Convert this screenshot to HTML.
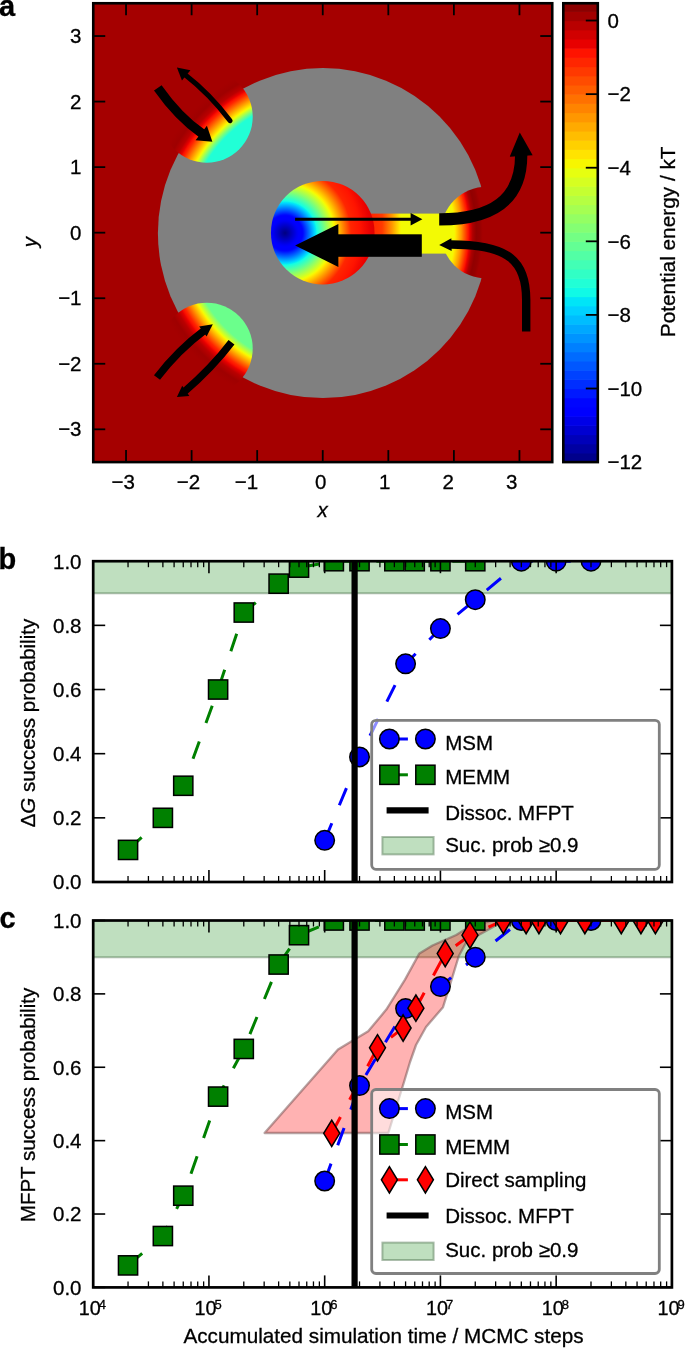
<!DOCTYPE html>
<html><head><meta charset="utf-8"><style>
html,body{margin:0;padding:0;background:#fff;}
svg{display:block;will-change:transform;}
text{font-family:"Liberation Sans", sans-serif;fill:#000;stroke:#000;stroke-width:0.3px;}
</style></head><body>
<svg width="685" height="1348" viewBox="0 0 685 1348">
<defs>
<clipPath id="clipA"><rect x="93.25" y="3.25" width="459.00" height="458.85"/></clipPath>
<radialGradient id="gUL" gradientUnits="userSpaceOnUse" cx="322.75" cy="232.68" r="220.00"><stop offset="0.0000" stop-color="#21ffd6"/><stop offset="0.0758" stop-color="#21ffd6"/><stop offset="0.1515" stop-color="#21ffd6"/><stop offset="0.2273" stop-color="#21ffd6"/><stop offset="0.3030" stop-color="#21ffd6"/><stop offset="0.3788" stop-color="#21ffd6"/><stop offset="0.4545" stop-color="#21ffd6"/><stop offset="0.4818" stop-color="#21ffd6"/><stop offset="0.5091" stop-color="#21ffd6"/><stop offset="0.5364" stop-color="#21ffd6"/><stop offset="0.5636" stop-color="#21ffd6"/><stop offset="0.5909" stop-color="#21ffd6"/><stop offset="0.6182" stop-color="#21ffd6"/><stop offset="0.6212" stop-color="#30ffc7"/><stop offset="0.6242" stop-color="#3fffb8"/><stop offset="0.6273" stop-color="#4effa9"/><stop offset="0.6303" stop-color="#5dff9a"/><stop offset="0.6333" stop-color="#6cff8a"/><stop offset="0.6364" stop-color="#7bff7b"/><stop offset="0.6398" stop-color="#8fff68"/><stop offset="0.6433" stop-color="#a2ff55"/><stop offset="0.6468" stop-color="#b5ff42"/><stop offset="0.6503" stop-color="#c8ff2f"/><stop offset="0.6538" stop-color="#dbff1b"/><stop offset="0.6573" stop-color="#efff08"/><stop offset="0.6621" stop-color="#feee00"/><stop offset="0.6670" stop-color="#ffdc00"/><stop offset="0.6718" stop-color="#ffcb00"/><stop offset="0.6767" stop-color="#ffba00"/><stop offset="0.6815" stop-color="#ffa800"/><stop offset="0.6864" stop-color="#ff9700"/><stop offset="0.6917" stop-color="#ff8400"/><stop offset="0.6970" stop-color="#ff7100"/><stop offset="0.7023" stop-color="#ff5e00"/><stop offset="0.7076" stop-color="#ff4c00"/><stop offset="0.7129" stop-color="#ff3900"/><stop offset="0.7182" stop-color="#ff2600"/><stop offset="0.7235" stop-color="#ff1900"/><stop offset="0.7288" stop-color="#f70d00"/><stop offset="0.7341" stop-color="#e80000"/><stop offset="0.7394" stop-color="#d80000"/><stop offset="0.7447" stop-color="#c90000"/><stop offset="0.7500" stop-color="#b90000"/><stop offset="0.7545" stop-color="#b50000"/><stop offset="0.7591" stop-color="#b10000"/><stop offset="0.7636" stop-color="#ac0000"/><stop offset="0.7682" stop-color="#a80000"/><stop offset="0.7727" stop-color="#a30000"/><stop offset="0.7773" stop-color="#9f0000"/><stop offset="0.7826" stop-color="#a00000"/><stop offset="0.7879" stop-color="#a10000"/><stop offset="0.7932" stop-color="#a20000"/><stop offset="0.7985" stop-color="#a30000"/><stop offset="0.8038" stop-color="#a40000"/><stop offset="0.8091" stop-color="#a50000"/><stop offset="0.8409" stop-color="#a50000"/><stop offset="0.8727" stop-color="#a50000"/><stop offset="0.9045" stop-color="#a50000"/><stop offset="0.9364" stop-color="#a50000"/><stop offset="0.9682" stop-color="#a50000"/><stop offset="1.0000" stop-color="#a50000"/></radialGradient>
<radialGradient id="gLL" gradientUnits="userSpaceOnUse" cx="322.75" cy="232.68" r="220.00"><stop offset="0.0000" stop-color="#6bff8c"/><stop offset="0.0758" stop-color="#6bff8c"/><stop offset="0.1515" stop-color="#6bff8c"/><stop offset="0.2273" stop-color="#6bff8c"/><stop offset="0.3030" stop-color="#6bff8c"/><stop offset="0.3788" stop-color="#6bff8c"/><stop offset="0.4545" stop-color="#6bff8c"/><stop offset="0.4818" stop-color="#6bff8c"/><stop offset="0.5091" stop-color="#6bff8c"/><stop offset="0.5364" stop-color="#6bff8c"/><stop offset="0.5636" stop-color="#6bff8c"/><stop offset="0.5909" stop-color="#6bff8c"/><stop offset="0.6182" stop-color="#6bff8c"/><stop offset="0.6239" stop-color="#81ff76"/><stop offset="0.6295" stop-color="#97ff60"/><stop offset="0.6352" stop-color="#adff4a"/><stop offset="0.6409" stop-color="#c3ff34"/><stop offset="0.6466" stop-color="#d9ff1e"/><stop offset="0.6523" stop-color="#efff08"/><stop offset="0.6572" stop-color="#feee00"/><stop offset="0.6621" stop-color="#ffdc00"/><stop offset="0.6670" stop-color="#ffcb00"/><stop offset="0.6720" stop-color="#ffba00"/><stop offset="0.6769" stop-color="#ffa800"/><stop offset="0.6818" stop-color="#ff9700"/><stop offset="0.6871" stop-color="#ff8400"/><stop offset="0.6924" stop-color="#ff7100"/><stop offset="0.6977" stop-color="#ff5e00"/><stop offset="0.7030" stop-color="#ff4c00"/><stop offset="0.7083" stop-color="#ff3900"/><stop offset="0.7136" stop-color="#ff2600"/><stop offset="0.7197" stop-color="#ff1900"/><stop offset="0.7258" stop-color="#f70d00"/><stop offset="0.7318" stop-color="#e80000"/><stop offset="0.7379" stop-color="#d80000"/><stop offset="0.7439" stop-color="#c90000"/><stop offset="0.7500" stop-color="#b90000"/><stop offset="0.7545" stop-color="#b50000"/><stop offset="0.7591" stop-color="#b10000"/><stop offset="0.7636" stop-color="#ac0000"/><stop offset="0.7682" stop-color="#a80000"/><stop offset="0.7727" stop-color="#a30000"/><stop offset="0.7773" stop-color="#9f0000"/><stop offset="0.7826" stop-color="#a00000"/><stop offset="0.7879" stop-color="#a10000"/><stop offset="0.7932" stop-color="#a20000"/><stop offset="0.7985" stop-color="#a30000"/><stop offset="0.8038" stop-color="#a40000"/><stop offset="0.8091" stop-color="#a50000"/><stop offset="0.8409" stop-color="#a50000"/><stop offset="0.8727" stop-color="#a50000"/><stop offset="0.9045" stop-color="#a50000"/><stop offset="0.9364" stop-color="#a50000"/><stop offset="0.9682" stop-color="#a50000"/><stop offset="1.0000" stop-color="#a50000"/></radialGradient>
<radialGradient id="gR" gradientUnits="userSpaceOnUse" cx="322.75" cy="232.68" r="220.00"><stop offset="0.0000" stop-color="#f3fa04"/><stop offset="0.0758" stop-color="#f3fa04"/><stop offset="0.1515" stop-color="#f3fa04"/><stop offset="0.2273" stop-color="#f3fa04"/><stop offset="0.3030" stop-color="#f3fa04"/><stop offset="0.3788" stop-color="#f3fa04"/><stop offset="0.4545" stop-color="#f3fa04"/><stop offset="0.4784" stop-color="#f3fa04"/><stop offset="0.5023" stop-color="#f3fa04"/><stop offset="0.5261" stop-color="#f3fa04"/><stop offset="0.5500" stop-color="#f3fa04"/><stop offset="0.5739" stop-color="#f3fa04"/><stop offset="0.5977" stop-color="#f3fa04"/><stop offset="0.6030" stop-color="#ffea00"/><stop offset="0.6083" stop-color="#ffd900"/><stop offset="0.6136" stop-color="#ffc900"/><stop offset="0.6189" stop-color="#ffb800"/><stop offset="0.6242" stop-color="#ffa800"/><stop offset="0.6295" stop-color="#ff9700"/><stop offset="0.6341" stop-color="#ff8400"/><stop offset="0.6386" stop-color="#ff7100"/><stop offset="0.6432" stop-color="#ff5e00"/><stop offset="0.6477" stop-color="#ff4c00"/><stop offset="0.6523" stop-color="#ff3900"/><stop offset="0.6568" stop-color="#ff2600"/><stop offset="0.6610" stop-color="#ff1800"/><stop offset="0.6652" stop-color="#f30900"/><stop offset="0.6693" stop-color="#e20000"/><stop offset="0.6735" stop-color="#d10000"/><stop offset="0.6777" stop-color="#bf0000"/><stop offset="0.6818" stop-color="#ae0000"/><stop offset="0.6845" stop-color="#a90000"/><stop offset="0.6871" stop-color="#a40000"/><stop offset="0.6898" stop-color="#9f0000"/><stop offset="0.6924" stop-color="#9b0000"/><stop offset="0.6951" stop-color="#960000"/><stop offset="0.6977" stop-color="#910000"/><stop offset="0.7004" stop-color="#920000"/><stop offset="0.7030" stop-color="#930000"/><stop offset="0.7057" stop-color="#940000"/><stop offset="0.7083" stop-color="#950000"/><stop offset="0.7110" stop-color="#960000"/><stop offset="0.7136" stop-color="#970000"/><stop offset="0.7159" stop-color="#990000"/><stop offset="0.7182" stop-color="#9b0000"/><stop offset="0.7205" stop-color="#9e0000"/><stop offset="0.7227" stop-color="#a00000"/><stop offset="0.7250" stop-color="#a20000"/><stop offset="0.7273" stop-color="#a50000"/><stop offset="0.7727" stop-color="#a50000"/><stop offset="0.8182" stop-color="#a50000"/><stop offset="0.8636" stop-color="#a50000"/><stop offset="0.9091" stop-color="#a50000"/><stop offset="0.9545" stop-color="#a50000"/><stop offset="1.0000" stop-color="#a50000"/></radialGradient>
<linearGradient id="gCh" gradientUnits="userSpaceOnUse" x1="366" y1="0" x2="405" y2="0"><stop offset="0.0000" stop-color="#ff1c00"/><stop offset="0.0684" stop-color="#ff2100"/><stop offset="0.1368" stop-color="#ff2600"/><stop offset="0.2051" stop-color="#ff2b00"/><stop offset="0.2735" stop-color="#ff2f00"/><stop offset="0.3419" stop-color="#ff3400"/><stop offset="0.4103" stop-color="#ff3900"/><stop offset="0.4530" stop-color="#ff4800"/><stop offset="0.4957" stop-color="#ff5800"/><stop offset="0.5385" stop-color="#ff6800"/><stop offset="0.5812" stop-color="#ff7800"/><stop offset="0.6239" stop-color="#ff8700"/><stop offset="0.6667" stop-color="#ff9700"/><stop offset="0.7051" stop-color="#ffa800"/><stop offset="0.7436" stop-color="#ffb800"/><stop offset="0.7821" stop-color="#ffc900"/><stop offset="0.8205" stop-color="#ffd900"/><stop offset="0.8590" stop-color="#ffea00"/><stop offset="0.8974" stop-color="#f3fa04"/><stop offset="0.9145" stop-color="#f3fa04"/><stop offset="0.9316" stop-color="#f3fa04"/><stop offset="0.9487" stop-color="#f3fa04"/><stop offset="0.9658" stop-color="#f3fa04"/><stop offset="0.9829" stop-color="#f3fa04"/><stop offset="1.0000" stop-color="#f3fa04"/></linearGradient>
<radialGradient id="gC" gradientUnits="userSpaceOnUse" cx="285.0" cy="233.0" r="90"><stop offset="0.0000" stop-color="#000080"/><stop offset="0.0111" stop-color="#000089"/><stop offset="0.0222" stop-color="#000093"/><stop offset="0.0333" stop-color="#00009c"/><stop offset="0.0444" stop-color="#0000a6"/><stop offset="0.0556" stop-color="#0000b0"/><stop offset="0.0667" stop-color="#0000b9"/><stop offset="0.0778" stop-color="#0000c3"/><stop offset="0.0889" stop-color="#0000cd"/><stop offset="0.1000" stop-color="#0000d6"/><stop offset="0.1111" stop-color="#0000e0"/><stop offset="0.1222" stop-color="#0000ea"/><stop offset="0.1333" stop-color="#0000f3"/><stop offset="0.1444" stop-color="#0000f9"/><stop offset="0.1556" stop-color="#0000ff"/><stop offset="0.1667" stop-color="#0000ff"/><stop offset="0.1778" stop-color="#0000ff"/><stop offset="0.1889" stop-color="#0000ff"/><stop offset="0.2000" stop-color="#0005ff"/><stop offset="0.2130" stop-color="#0019ff"/><stop offset="0.2259" stop-color="#002eff"/><stop offset="0.2389" stop-color="#0042ff"/><stop offset="0.2519" stop-color="#0057ff"/><stop offset="0.2648" stop-color="#006bff"/><stop offset="0.2778" stop-color="#0080ff"/><stop offset="0.2907" stop-color="#0095ff"/><stop offset="0.3037" stop-color="#00aaff"/><stop offset="0.3167" stop-color="#00bfff"/><stop offset="0.3296" stop-color="#00d4ff"/><stop offset="0.3426" stop-color="#03eaf3"/><stop offset="0.3556" stop-color="#15ffe2"/><stop offset="0.3704" stop-color="#26ffd1"/><stop offset="0.3852" stop-color="#37ffc0"/><stop offset="0.4000" stop-color="#48ffaf"/><stop offset="0.4148" stop-color="#59ff9e"/><stop offset="0.4296" stop-color="#6aff8d"/><stop offset="0.4444" stop-color="#7bff7b"/><stop offset="0.4611" stop-color="#8fff68"/><stop offset="0.4778" stop-color="#a2ff55"/><stop offset="0.4944" stop-color="#b5ff42"/><stop offset="0.5111" stop-color="#c8ff2f"/><stop offset="0.5278" stop-color="#dbff1b"/><stop offset="0.5444" stop-color="#efff08"/><stop offset="0.5593" stop-color="#feee00"/><stop offset="0.5741" stop-color="#ffdc00"/><stop offset="0.5889" stop-color="#ffcb00"/><stop offset="0.6037" stop-color="#ffba00"/><stop offset="0.6185" stop-color="#ffa800"/><stop offset="0.6333" stop-color="#ff9700"/><stop offset="0.6500" stop-color="#ff8400"/><stop offset="0.6667" stop-color="#ff7100"/><stop offset="0.6833" stop-color="#ff5e00"/><stop offset="0.7000" stop-color="#ff4c00"/><stop offset="0.7167" stop-color="#ff3900"/><stop offset="0.7333" stop-color="#ff2600"/><stop offset="0.7593" stop-color="#ff2100"/><stop offset="0.7852" stop-color="#ff1c00"/><stop offset="0.8111" stop-color="#ff1800"/><stop offset="0.8370" stop-color="#ff1300"/><stop offset="0.8630" stop-color="#f90e00"/><stop offset="0.8889" stop-color="#f30900"/><stop offset="0.9074" stop-color="#f00600"/><stop offset="0.9259" stop-color="#ec0300"/><stop offset="0.9444" stop-color="#e80000"/><stop offset="0.9630" stop-color="#e40000"/><stop offset="0.9815" stop-color="#e00000"/><stop offset="1.0000" stop-color="#dc0000"/></radialGradient>
</defs>
<rect x="0" y="0" width="685" height="1348" fill="#ffffff"/>
<g clip-path="url(#clipA)">
<rect x="93.25" y="3.25" width="459.00" height="458.85" fill="#a50000"/>
<circle cx="322.90" cy="233.12" r="165.00" fill="#808080"/>
<circle cx="206.83" cy="116.76" r="45.90" fill="url(#gUL)"/>
<circle cx="206.83" cy="348.59" r="45.90" fill="url(#gLL)"/>
<circle cx="486.68" cy="232.68" r="45.90" fill="url(#gR)"/>
<rect x="350" y="213.6" width="100" height="40" fill="url(#gCh)"/>
<circle cx="322.75" cy="232.68" r="51.8" fill="url(#gC)"/>
<path d="M157.8 87.8 Q 178.3 117.0 202.5 133.9" stroke="#000" stroke-width="9.3" fill="none"/>
<polygon points="212.40,141.70 195.49,140.17 206.91,125.63" fill="#000"/>
<path d="M230.1 120.7 Q 210 94 184.5 74.2" stroke="#000" stroke-width="5" fill="none" stroke-linecap="round"/>
<polygon points="176.90,67.60 190.44,70.34 181.96,80.46" fill="#000"/>
<path d="M157.0 377.5 Q 178 350 204.9 330.0" stroke="#000" stroke-width="7.6" fill="none" stroke-linejoin="round"/>
<polygon points="212.80,324.20 206.61,336.53 199.19,326.47" fill="#000"/>
<path d="M231.5 342.3 Q 212 368 183.75 392.3" stroke="#000" stroke-width="7.4" fill="none"/>
<polygon points="176.90,397.10 182.23,385.77 189.37,396.03" fill="#000"/>
<line x1="295.1" y1="219.3" x2="411" y2="219.3" stroke="#000" stroke-width="3"/>
<polygon points="422.40,219.30 410.60,225.55 410.60,213.05" fill="#000"/>
<rect x="337" y="234.3" width="84.8" height="22.5" fill="#000"/>
<polygon points="295.10,245.50 338.40,224.00 338.40,267.00" fill="#000"/>
<path d="M439.2 219.4 C 492 219.4, 521.2 200, 521.2 155" stroke="#000" stroke-width="12.3" fill="none"/>
<polygon points="519.80,132.60 532.68,155.31 509.72,156.69" fill="#000"/>
<path d="M526.2 331.6 L 526.2 300 C 526.2 262, 510 244.5, 451 244.5" stroke="#000" stroke-width="8.4" fill="none"/>
<polygon points="439.20,245.00 451.34,238.30 451.66,251.10" fill="#000"/>
</g>
<g stroke="#000" stroke-width="1.80"><line x1="126.04" y1="3.25" x2="126.04" y2="15.25"/><line x1="126.04" y1="462.10" x2="126.04" y2="450.10"/><line x1="191.61" y1="3.25" x2="191.61" y2="15.25"/><line x1="191.61" y1="462.10" x2="191.61" y2="450.10"/><line x1="257.18" y1="3.25" x2="257.18" y2="15.25"/><line x1="257.18" y1="462.10" x2="257.18" y2="450.10"/><line x1="322.75" y1="3.25" x2="322.75" y2="15.25"/><line x1="322.75" y1="462.10" x2="322.75" y2="450.10"/><line x1="388.32" y1="3.25" x2="388.32" y2="15.25"/><line x1="388.32" y1="462.10" x2="388.32" y2="450.10"/><line x1="453.89" y1="3.25" x2="453.89" y2="15.25"/><line x1="453.89" y1="462.10" x2="453.89" y2="450.10"/><line x1="519.46" y1="3.25" x2="519.46" y2="15.25"/><line x1="519.46" y1="462.10" x2="519.46" y2="450.10"/></g>
<g stroke="#000" stroke-width="1.80"><line x1="93.25" y1="429.32" x2="105.25" y2="429.32"/><line x1="552.25" y1="429.32" x2="540.25" y2="429.32"/><line x1="93.25" y1="363.77" x2="105.25" y2="363.77"/><line x1="552.25" y1="363.77" x2="540.25" y2="363.77"/><line x1="93.25" y1="298.23" x2="105.25" y2="298.23"/><line x1="552.25" y1="298.23" x2="540.25" y2="298.23"/><line x1="93.25" y1="232.68" x2="105.25" y2="232.68"/><line x1="552.25" y1="232.68" x2="540.25" y2="232.68"/><line x1="93.25" y1="167.12" x2="105.25" y2="167.12"/><line x1="552.25" y1="167.12" x2="540.25" y2="167.12"/><line x1="93.25" y1="101.58" x2="105.25" y2="101.58"/><line x1="552.25" y1="101.58" x2="540.25" y2="101.58"/><line x1="93.25" y1="36.03" x2="105.25" y2="36.03"/><line x1="552.25" y1="36.03" x2="540.25" y2="36.03"/></g>
<rect x="93.25" y="3.25" width="459.00" height="458.85" fill="none" stroke="#000" stroke-width="2.6"/>
<text x="123.20" y="489.20" text-anchor="middle" font-size="20.50" >−3</text>
<text x="81.50" y="436.32" text-anchor="end" font-size="20.50" >−3</text>
<text x="188.40" y="489.20" text-anchor="middle" font-size="20.50" >−2</text>
<text x="81.50" y="370.77" text-anchor="end" font-size="20.50" >−2</text>
<text x="246.50" y="489.20" text-anchor="middle" font-size="20.50" >−1</text>
<text x="81.50" y="305.23" text-anchor="end" font-size="20.50" >−1</text>
<text x="320.80" y="489.20" text-anchor="middle" font-size="20.50" >0</text>
<text x="81.50" y="239.68" text-anchor="end" font-size="20.50" >0</text>
<text x="384.60" y="489.20" text-anchor="middle" font-size="20.50" >1</text>
<text x="81.50" y="174.12" text-anchor="end" font-size="20.50" >1</text>
<text x="448.10" y="489.20" text-anchor="middle" font-size="20.50" >2</text>
<text x="81.50" y="108.58" text-anchor="end" font-size="20.50" >2</text>
<text x="511.70" y="489.20" text-anchor="middle" font-size="20.50" >3</text>
<text x="81.50" y="43.03" text-anchor="end" font-size="20.50" >3</text>
<text x="322.50" y="517.00" text-anchor="middle" font-size="20.50" font-style="italic">x</text>
<text x="0" y="0" transform="translate(36.9 242.0) rotate(-90)" text-anchor="middle" font-size="20.50" font-style="italic">y</text>
<rect x="563.30" y="452.90" width="34.50" height="9.80" fill="#00008b"/>
<rect x="563.30" y="443.70" width="34.50" height="9.80" fill="#0000a2"/>
<rect x="563.30" y="434.50" width="34.50" height="9.80" fill="#0000b9"/>
<rect x="563.30" y="425.30" width="34.50" height="9.80" fill="#0000d1"/>
<rect x="563.30" y="416.10" width="34.50" height="9.80" fill="#0000e8"/>
<rect x="563.30" y="406.91" width="34.50" height="9.80" fill="#0000ff"/>
<rect x="563.30" y="397.71" width="34.50" height="9.80" fill="#0005ff"/>
<rect x="563.30" y="388.51" width="34.50" height="9.80" fill="#0019ff"/>
<rect x="563.30" y="379.31" width="34.50" height="9.80" fill="#002eff"/>
<rect x="563.30" y="370.11" width="34.50" height="9.80" fill="#0042ff"/>
<rect x="563.30" y="360.91" width="34.50" height="9.80" fill="#0057ff"/>
<rect x="563.30" y="351.71" width="34.50" height="9.80" fill="#006bff"/>
<rect x="563.30" y="342.51" width="34.50" height="9.80" fill="#0080ff"/>
<rect x="563.30" y="333.31" width="34.50" height="9.80" fill="#0094ff"/>
<rect x="563.30" y="324.11" width="34.50" height="9.80" fill="#00a8ff"/>
<rect x="563.30" y="314.91" width="34.50" height="9.80" fill="#00bdff"/>
<rect x="563.30" y="305.72" width="34.50" height="9.80" fill="#00d1ff"/>
<rect x="563.30" y="296.52" width="34.50" height="9.80" fill="#00e5f7"/>
<rect x="563.30" y="287.32" width="34.50" height="9.80" fill="#10fae6"/>
<rect x="563.30" y="278.12" width="34.50" height="9.80" fill="#21ffd6"/>
<rect x="563.30" y="268.92" width="34.50" height="9.80" fill="#31ffc5"/>
<rect x="563.30" y="259.72" width="34.50" height="9.80" fill="#42ffb5"/>
<rect x="563.30" y="250.52" width="34.50" height="9.80" fill="#52ffa5"/>
<rect x="563.30" y="241.32" width="34.50" height="9.80" fill="#63ff94"/>
<rect x="563.30" y="232.12" width="34.50" height="9.80" fill="#73ff84"/>
<rect x="563.30" y="222.92" width="34.50" height="9.80" fill="#84ff73"/>
<rect x="563.30" y="213.72" width="34.50" height="9.80" fill="#94ff63"/>
<rect x="563.30" y="204.53" width="34.50" height="9.80" fill="#a5ff52"/>
<rect x="563.30" y="195.33" width="34.50" height="9.80" fill="#b5ff42"/>
<rect x="563.30" y="186.13" width="34.50" height="9.80" fill="#c5ff31"/>
<rect x="563.30" y="176.93" width="34.50" height="9.80" fill="#d6ff21"/>
<rect x="563.30" y="167.73" width="34.50" height="9.80" fill="#e6ff10"/>
<rect x="563.30" y="158.53" width="34.50" height="9.80" fill="#f7f600"/>
<rect x="563.30" y="149.33" width="34.50" height="9.80" fill="#ffe300"/>
<rect x="563.30" y="140.13" width="34.50" height="9.80" fill="#ffd000"/>
<rect x="563.30" y="130.93" width="34.50" height="9.80" fill="#ffbd00"/>
<rect x="563.30" y="121.73" width="34.50" height="9.80" fill="#ffaa00"/>
<rect x="563.30" y="112.54" width="34.50" height="9.80" fill="#ff9700"/>
<rect x="563.30" y="103.34" width="34.50" height="9.80" fill="#ff8400"/>
<rect x="563.30" y="94.14" width="34.50" height="9.80" fill="#ff7100"/>
<rect x="563.30" y="84.94" width="34.50" height="9.80" fill="#ff5e00"/>
<rect x="563.30" y="75.74" width="34.50" height="9.80" fill="#ff4c00"/>
<rect x="563.30" y="66.54" width="34.50" height="9.80" fill="#ff3900"/>
<rect x="563.30" y="57.34" width="34.50" height="9.80" fill="#ff2600"/>
<rect x="563.30" y="48.14" width="34.50" height="9.80" fill="#ff1300"/>
<rect x="563.30" y="38.94" width="34.50" height="9.80" fill="#e80000"/>
<rect x="563.30" y="29.74" width="34.50" height="9.80" fill="#d10000"/>
<rect x="563.30" y="20.54" width="34.50" height="9.80" fill="#b90000"/>
<rect x="563.30" y="11.35" width="34.50" height="9.80" fill="#a20000"/>
<rect x="563.30" y="3.25" width="34.50" height="8.70" fill="#8b0000"/>
<g stroke="#000" stroke-width="1.8"><line x1="597.80" y1="462.10" x2="585.80" y2="462.10"/><line x1="597.80" y1="388.51" x2="585.80" y2="388.51"/><line x1="597.80" y1="314.91" x2="585.80" y2="314.91"/><line x1="597.80" y1="241.32" x2="585.80" y2="241.32"/><line x1="597.80" y1="167.73" x2="585.80" y2="167.73"/><line x1="597.80" y1="94.14" x2="585.80" y2="94.14"/><line x1="597.80" y1="20.54" x2="585.80" y2="20.54"/></g>
<rect x="563.30" y="3.25" width="34.50" height="458.85" fill="none" stroke="#000" stroke-width="2.6"/>
<text x="607.50" y="469.40" text-anchor="start" font-size="20.50" >−12</text>
<text x="607.50" y="395.81" text-anchor="start" font-size="20.50" >−10</text>
<text x="607.50" y="322.21" text-anchor="start" font-size="20.50" >−8</text>
<text x="607.50" y="248.62" text-anchor="start" font-size="20.50" >−6</text>
<text x="607.50" y="175.03" text-anchor="start" font-size="20.50" >−4</text>
<text x="607.50" y="101.44" text-anchor="start" font-size="20.50" >−2</text>
<text x="607.50" y="27.84" text-anchor="start" font-size="20.50" >0</text>
<text x="0" y="0" transform="translate(674.5 241.8) rotate(-90)" text-anchor="middle" font-size="20.8">Potential energy / kT</text>
<text x="-1" y="16" font-size="29" font-weight="bold">a</text>
<text x="-1.5" y="568.5" font-size="29" font-weight="bold">b</text>
<text x="-0.5" y="927.5" font-size="29" font-weight="bold">c</text>
<clipPath id="clipB"><rect x="93.20" y="561.20" width="578.70" height="320.80"/></clipPath>
<g clip-path="url(#clipB)">
<rect x="88.20" y="556.20" width="588.70" height="37.08" fill="#008000" fill-opacity="0.25"/>
<line x1="93.20" y1="593.28" x2="671.90" y2="593.28" stroke="#4a6e4a" stroke-opacity="0.45" stroke-width="2"/>
<polyline points="128.04,849.92 162.88,817.84 183.26,785.76 218.10,689.52 243.78,612.53 278.62,583.66 299.00,567.62 333.84,561.20 359.52,561.20 394.36,561.20 414.74,561.20 440.42,561.20 475.26,561.20" fill="none" stroke="#008000" stroke-width="3" stroke-dasharray="18.5 19.5" stroke-dashoffset="0.0"/>
<polyline points="324.68,840.30 359.52,756.89 405.58,663.86 440.42,628.57 475.26,599.70 521.32,561.20 556.16,561.20 591.00,561.20" fill="none" stroke="#0000ff" stroke-width="3" stroke-dasharray="18.5 19.5" stroke-dashoffset="0.0"/>
<rect x="118.44" y="840.32" width="19.2" height="19.2" fill="#008000" stroke="#000" stroke-width="1.5"/>
<rect x="153.28" y="808.24" width="19.2" height="19.2" fill="#008000" stroke="#000" stroke-width="1.5"/>
<rect x="173.66" y="776.16" width="19.2" height="19.2" fill="#008000" stroke="#000" stroke-width="1.5"/>
<rect x="208.50" y="679.92" width="19.2" height="19.2" fill="#008000" stroke="#000" stroke-width="1.5"/>
<rect x="234.18" y="602.93" width="19.2" height="19.2" fill="#008000" stroke="#000" stroke-width="1.5"/>
<rect x="269.02" y="574.06" width="19.2" height="19.2" fill="#008000" stroke="#000" stroke-width="1.5"/>
<rect x="289.40" y="558.02" width="19.2" height="19.2" fill="#008000" stroke="#000" stroke-width="1.5"/>
<rect x="324.24" y="551.60" width="19.2" height="19.2" fill="#008000" stroke="#000" stroke-width="1.5"/>
<rect x="349.92" y="551.60" width="19.2" height="19.2" fill="#008000" stroke="#000" stroke-width="1.5"/>
<rect x="384.76" y="551.60" width="19.2" height="19.2" fill="#008000" stroke="#000" stroke-width="1.5"/>
<rect x="405.14" y="551.60" width="19.2" height="19.2" fill="#008000" stroke="#000" stroke-width="1.5"/>
<rect x="430.82" y="551.60" width="19.2" height="19.2" fill="#008000" stroke="#000" stroke-width="1.5"/>
<rect x="465.66" y="551.60" width="19.2" height="19.2" fill="#008000" stroke="#000" stroke-width="1.5"/>
<circle cx="324.68" cy="840.30" r="9.75" fill="#0000ff" stroke="#000" stroke-width="1.5"/>
<circle cx="359.52" cy="756.89" r="9.75" fill="#0000ff" stroke="#000" stroke-width="1.5"/>
<circle cx="405.58" cy="663.86" r="9.75" fill="#0000ff" stroke="#000" stroke-width="1.5"/>
<circle cx="440.42" cy="628.57" r="9.75" fill="#0000ff" stroke="#000" stroke-width="1.5"/>
<circle cx="475.26" cy="599.70" r="9.75" fill="#0000ff" stroke="#000" stroke-width="1.5"/>
<circle cx="521.32" cy="561.20" r="9.75" fill="#0000ff" stroke="#000" stroke-width="1.5"/>
<circle cx="556.16" cy="561.20" r="9.75" fill="#0000ff" stroke="#000" stroke-width="1.5"/>
<circle cx="591.00" cy="561.20" r="9.75" fill="#0000ff" stroke="#000" stroke-width="1.5"/>
<line x1="354.6" y1="556.20" x2="354.6" y2="887.00" stroke="#000" stroke-width="6.2"/>
</g>
<g stroke="#000" stroke-width="1.3"><line x1="93.20" y1="882.00" x2="93.20" y2="870.00" stroke-width="1.6"/><line x1="93.20" y1="561.20" x2="93.20" y2="573.20" stroke-width="1.6"/><line x1="128.04" y1="882.00" x2="128.04" y2="876.00"/><line x1="128.04" y1="561.20" x2="128.04" y2="567.20"/><line x1="148.42" y1="882.00" x2="148.42" y2="876.00"/><line x1="148.42" y1="561.20" x2="148.42" y2="567.20"/><line x1="162.88" y1="882.00" x2="162.88" y2="876.00"/><line x1="162.88" y1="561.20" x2="162.88" y2="567.20"/><line x1="174.10" y1="882.00" x2="174.10" y2="876.00"/><line x1="174.10" y1="561.20" x2="174.10" y2="567.20"/><line x1="183.26" y1="882.00" x2="183.26" y2="876.00"/><line x1="183.26" y1="561.20" x2="183.26" y2="567.20"/><line x1="191.01" y1="882.00" x2="191.01" y2="876.00"/><line x1="191.01" y1="561.20" x2="191.01" y2="567.20"/><line x1="197.72" y1="882.00" x2="197.72" y2="876.00"/><line x1="197.72" y1="561.20" x2="197.72" y2="567.20"/><line x1="203.64" y1="882.00" x2="203.64" y2="876.00"/><line x1="203.64" y1="561.20" x2="203.64" y2="567.20"/><line x1="208.94" y1="882.00" x2="208.94" y2="870.00" stroke-width="1.6"/><line x1="208.94" y1="561.20" x2="208.94" y2="573.20" stroke-width="1.6"/><line x1="243.78" y1="882.00" x2="243.78" y2="876.00"/><line x1="243.78" y1="561.20" x2="243.78" y2="567.20"/><line x1="264.16" y1="882.00" x2="264.16" y2="876.00"/><line x1="264.16" y1="561.20" x2="264.16" y2="567.20"/><line x1="278.62" y1="882.00" x2="278.62" y2="876.00"/><line x1="278.62" y1="561.20" x2="278.62" y2="567.20"/><line x1="289.84" y1="882.00" x2="289.84" y2="876.00"/><line x1="289.84" y1="561.20" x2="289.84" y2="567.20"/><line x1="299.00" y1="882.00" x2="299.00" y2="876.00"/><line x1="299.00" y1="561.20" x2="299.00" y2="567.20"/><line x1="306.75" y1="882.00" x2="306.75" y2="876.00"/><line x1="306.75" y1="561.20" x2="306.75" y2="567.20"/><line x1="313.46" y1="882.00" x2="313.46" y2="876.00"/><line x1="313.46" y1="561.20" x2="313.46" y2="567.20"/><line x1="319.38" y1="882.00" x2="319.38" y2="876.00"/><line x1="319.38" y1="561.20" x2="319.38" y2="567.20"/><line x1="324.68" y1="882.00" x2="324.68" y2="870.00" stroke-width="1.6"/><line x1="324.68" y1="561.20" x2="324.68" y2="573.20" stroke-width="1.6"/><line x1="359.52" y1="882.00" x2="359.52" y2="876.00"/><line x1="359.52" y1="561.20" x2="359.52" y2="567.20"/><line x1="379.90" y1="882.00" x2="379.90" y2="876.00"/><line x1="379.90" y1="561.20" x2="379.90" y2="567.20"/><line x1="394.36" y1="882.00" x2="394.36" y2="876.00"/><line x1="394.36" y1="561.20" x2="394.36" y2="567.20"/><line x1="405.58" y1="882.00" x2="405.58" y2="876.00"/><line x1="405.58" y1="561.20" x2="405.58" y2="567.20"/><line x1="414.74" y1="882.00" x2="414.74" y2="876.00"/><line x1="414.74" y1="561.20" x2="414.74" y2="567.20"/><line x1="422.49" y1="882.00" x2="422.49" y2="876.00"/><line x1="422.49" y1="561.20" x2="422.49" y2="567.20"/><line x1="429.20" y1="882.00" x2="429.20" y2="876.00"/><line x1="429.20" y1="561.20" x2="429.20" y2="567.20"/><line x1="435.12" y1="882.00" x2="435.12" y2="876.00"/><line x1="435.12" y1="561.20" x2="435.12" y2="567.20"/><line x1="440.42" y1="882.00" x2="440.42" y2="870.00" stroke-width="1.6"/><line x1="440.42" y1="561.20" x2="440.42" y2="573.20" stroke-width="1.6"/><line x1="475.26" y1="882.00" x2="475.26" y2="876.00"/><line x1="475.26" y1="561.20" x2="475.26" y2="567.20"/><line x1="495.64" y1="882.00" x2="495.64" y2="876.00"/><line x1="495.64" y1="561.20" x2="495.64" y2="567.20"/><line x1="510.10" y1="882.00" x2="510.10" y2="876.00"/><line x1="510.10" y1="561.20" x2="510.10" y2="567.20"/><line x1="521.32" y1="882.00" x2="521.32" y2="876.00"/><line x1="521.32" y1="561.20" x2="521.32" y2="567.20"/><line x1="530.48" y1="882.00" x2="530.48" y2="876.00"/><line x1="530.48" y1="561.20" x2="530.48" y2="567.20"/><line x1="538.23" y1="882.00" x2="538.23" y2="876.00"/><line x1="538.23" y1="561.20" x2="538.23" y2="567.20"/><line x1="544.94" y1="882.00" x2="544.94" y2="876.00"/><line x1="544.94" y1="561.20" x2="544.94" y2="567.20"/><line x1="550.86" y1="882.00" x2="550.86" y2="876.00"/><line x1="550.86" y1="561.20" x2="550.86" y2="567.20"/><line x1="556.16" y1="882.00" x2="556.16" y2="870.00" stroke-width="1.6"/><line x1="556.16" y1="561.20" x2="556.16" y2="573.20" stroke-width="1.6"/><line x1="591.00" y1="882.00" x2="591.00" y2="876.00"/><line x1="591.00" y1="561.20" x2="591.00" y2="567.20"/><line x1="611.38" y1="882.00" x2="611.38" y2="876.00"/><line x1="611.38" y1="561.20" x2="611.38" y2="567.20"/><line x1="625.84" y1="882.00" x2="625.84" y2="876.00"/><line x1="625.84" y1="561.20" x2="625.84" y2="567.20"/><line x1="637.06" y1="882.00" x2="637.06" y2="876.00"/><line x1="637.06" y1="561.20" x2="637.06" y2="567.20"/><line x1="646.22" y1="882.00" x2="646.22" y2="876.00"/><line x1="646.22" y1="561.20" x2="646.22" y2="567.20"/><line x1="653.97" y1="882.00" x2="653.97" y2="876.00"/><line x1="653.97" y1="561.20" x2="653.97" y2="567.20"/><line x1="660.68" y1="882.00" x2="660.68" y2="876.00"/><line x1="660.68" y1="561.20" x2="660.68" y2="567.20"/><line x1="666.60" y1="882.00" x2="666.60" y2="876.00"/><line x1="666.60" y1="561.20" x2="666.60" y2="567.20"/><line x1="671.90" y1="882.00" x2="671.90" y2="870.00" stroke-width="1.6"/><line x1="671.90" y1="561.20" x2="671.90" y2="573.20" stroke-width="1.6"/><line x1="93.20" y1="882.00" x2="105.20" y2="882.00" stroke-width="1.6"/><line x1="671.90" y1="882.00" x2="659.90" y2="882.00" stroke-width="1.6"/><line x1="93.20" y1="817.84" x2="105.20" y2="817.84" stroke-width="1.6"/><line x1="671.90" y1="817.84" x2="659.90" y2="817.84" stroke-width="1.6"/><line x1="93.20" y1="753.68" x2="105.20" y2="753.68" stroke-width="1.6"/><line x1="671.90" y1="753.68" x2="659.90" y2="753.68" stroke-width="1.6"/><line x1="93.20" y1="689.52" x2="105.20" y2="689.52" stroke-width="1.6"/><line x1="671.90" y1="689.52" x2="659.90" y2="689.52" stroke-width="1.6"/><line x1="93.20" y1="625.36" x2="105.20" y2="625.36" stroke-width="1.6"/><line x1="671.90" y1="625.36" x2="659.90" y2="625.36" stroke-width="1.6"/><line x1="93.20" y1="561.20" x2="105.20" y2="561.20" stroke-width="1.6"/><line x1="671.90" y1="561.20" x2="659.90" y2="561.20" stroke-width="1.6"/></g>
<rect x="93.20" y="561.20" width="578.70" height="320.80" fill="none" stroke="#000" stroke-width="2.7"/>
<text x="81.50" y="889.30" text-anchor="end" font-size="20.50" >0.0</text>
<text x="81.50" y="825.14" text-anchor="end" font-size="20.50" >0.2</text>
<text x="81.50" y="760.98" text-anchor="end" font-size="20.50" >0.4</text>
<text x="81.50" y="696.82" text-anchor="end" font-size="20.50" >0.6</text>
<text x="81.50" y="632.66" text-anchor="end" font-size="20.50" >0.8</text>
<text x="81.50" y="568.50" text-anchor="end" font-size="20.50" >1.0</text>
<rect x="371.70" y="720.30" width="287.60" height="149.00" rx="4.2" ry="4.2" fill="#ffffff" fill-opacity="0.55" stroke="#808080" stroke-width="2.8"/>
<line x1="389.40" y1="739.00" x2="425.40" y2="739.00" stroke="#0000ff" stroke-width="3" stroke-dasharray="18.5 19.5"/>
<circle cx="389.40" cy="739.00" r="9.75" fill="#0000ff" stroke="#000" stroke-width="1.5"/>
<circle cx="425.40" cy="739.00" r="9.75" fill="#0000ff" stroke="#000" stroke-width="1.5"/>
<text x="445.20" y="749.50" text-anchor="start" font-size="20.50" >MSM</text>
<line x1="389.40" y1="774.80" x2="425.40" y2="774.80" stroke="#008000" stroke-width="3" stroke-dasharray="18.5 19.5"/>
<rect x="379.80" y="765.20" width="19.2" height="19.2" fill="#008000" stroke="#000" stroke-width="1.5"/>
<rect x="415.80" y="765.20" width="19.2" height="19.2" fill="#008000" stroke="#000" stroke-width="1.5"/>
<text x="445.20" y="784.20" text-anchor="start" font-size="20.50" >MEMM</text>
<line x1="386.6" y1="810.30" x2="428.6" y2="810.30" stroke="#000" stroke-width="6.2"/>
<text x="445.20" y="819.90" text-anchor="start" font-size="20.50" >Dissoc. MFPT</text>
<rect x="382.4" y="837.00" width="51.2" height="17.4" fill="#008000" fill-opacity="0.25" stroke="#4a6e4a" stroke-opacity="0.45" stroke-width="2"/>
<text x="445.20" y="852.30" text-anchor="start" font-size="20.50" >Suc. prob ≥0.9</text>
<clipPath id="clipC"><rect x="93.20" y="920.50" width="578.70" height="366.90"/></clipPath>
<g clip-path="url(#clipC)">
<rect x="88.20" y="915.50" width="588.70" height="41.69" fill="#008000" fill-opacity="0.25"/>
<line x1="93.20" y1="957.19" x2="671.90" y2="957.19" stroke="#4a6e4a" stroke-opacity="0.45" stroke-width="2"/>
<polygon points="264.60,1133.00 338.00,1049.40 368.20,1031.30 386.30,1009.60 405.00,979.60 419.40,953.40 432.50,945.50 456.20,935.00 466.70,928.40 490.40,921.00 520.00,915.00 525.00,915.00 503.50,921.00 490.40,928.40 466.70,941.50 458.80,956.00 449.60,986.20 443.00,1007.20 426.00,1027.00 416.00,1045.00 410.00,1062.00 404.60,1080.00 388.30,1133.00" fill="#ff0000" fill-opacity="0.3" stroke="#6e4a4a" stroke-opacity="0.5" stroke-width="2.3" stroke-linejoin="round"/>
<polyline points="128.04,1265.39 162.88,1236.03 183.26,1195.68 218.10,1096.61 243.78,1048.91 278.62,964.53 299.00,935.18 333.84,920.50 359.52,920.50 394.36,920.50 414.74,920.50 440.42,920.50 475.26,920.50" fill="none" stroke="#008000" stroke-width="3" stroke-dasharray="18.5 19.5" stroke-dashoffset="0.0"/>
<polyline points="324.68,1181.00 359.52,1085.61 405.58,1008.56 440.42,986.54 475.26,957.19 521.32,920.50 556.16,920.50 591.00,920.50" fill="none" stroke="#0000ff" stroke-width="3" stroke-dasharray="18.5 19.5" stroke-dashoffset="0.0"/>
<polyline points="331.71,1133.30 377.50,1047.81 403.11,1028.00 415.90,1008.19 445.21,953.52 469.97,935.18 503.39,920.50 526.11,920.50 538.94,920.50 560.49,920.50 584.86,920.50 621.24,920.50 640.93,920.50 655.39,920.50" fill="none" stroke="#ff0000" stroke-width="3" stroke-dasharray="18.5 19.5" stroke-dashoffset="0.0"/>
<rect x="118.44" y="1255.79" width="19.2" height="19.2" fill="#008000" stroke="#000" stroke-width="1.5"/>
<rect x="153.28" y="1226.43" width="19.2" height="19.2" fill="#008000" stroke="#000" stroke-width="1.5"/>
<rect x="173.66" y="1186.08" width="19.2" height="19.2" fill="#008000" stroke="#000" stroke-width="1.5"/>
<rect x="208.50" y="1087.01" width="19.2" height="19.2" fill="#008000" stroke="#000" stroke-width="1.5"/>
<rect x="234.18" y="1039.32" width="19.2" height="19.2" fill="#008000" stroke="#000" stroke-width="1.5"/>
<rect x="269.02" y="954.93" width="19.2" height="19.2" fill="#008000" stroke="#000" stroke-width="1.5"/>
<rect x="289.40" y="925.58" width="19.2" height="19.2" fill="#008000" stroke="#000" stroke-width="1.5"/>
<rect x="324.24" y="910.90" width="19.2" height="19.2" fill="#008000" stroke="#000" stroke-width="1.5"/>
<rect x="349.92" y="910.90" width="19.2" height="19.2" fill="#008000" stroke="#000" stroke-width="1.5"/>
<rect x="384.76" y="910.90" width="19.2" height="19.2" fill="#008000" stroke="#000" stroke-width="1.5"/>
<rect x="405.14" y="910.90" width="19.2" height="19.2" fill="#008000" stroke="#000" stroke-width="1.5"/>
<rect x="430.82" y="910.90" width="19.2" height="19.2" fill="#008000" stroke="#000" stroke-width="1.5"/>
<rect x="465.66" y="910.90" width="19.2" height="19.2" fill="#008000" stroke="#000" stroke-width="1.5"/>
<circle cx="324.68" cy="1181.00" r="9.75" fill="#0000ff" stroke="#000" stroke-width="1.5"/>
<circle cx="359.52" cy="1085.61" r="9.75" fill="#0000ff" stroke="#000" stroke-width="1.5"/>
<circle cx="405.58" cy="1008.56" r="9.75" fill="#0000ff" stroke="#000" stroke-width="1.5"/>
<circle cx="440.42" cy="986.54" r="9.75" fill="#0000ff" stroke="#000" stroke-width="1.5"/>
<circle cx="475.26" cy="957.19" r="9.75" fill="#0000ff" stroke="#000" stroke-width="1.5"/>
<circle cx="521.32" cy="920.50" r="9.75" fill="#0000ff" stroke="#000" stroke-width="1.5"/>
<circle cx="556.16" cy="920.50" r="9.75" fill="#0000ff" stroke="#000" stroke-width="1.5"/>
<circle cx="591.00" cy="920.50" r="9.75" fill="#0000ff" stroke="#000" stroke-width="1.5"/>
<polygon points="331.71,1120.10 339.71,1133.30 331.71,1146.50 323.71,1133.30" fill="#ff0000" stroke="#000" stroke-width="1.5"/>
<polygon points="377.50,1034.61 385.50,1047.81 377.50,1061.01 369.50,1047.81" fill="#ff0000" stroke="#000" stroke-width="1.5"/>
<polygon points="403.11,1014.80 411.11,1028.00 403.11,1041.20 395.11,1028.00" fill="#ff0000" stroke="#000" stroke-width="1.5"/>
<polygon points="415.90,994.99 423.90,1008.19 415.90,1021.39 407.90,1008.19" fill="#ff0000" stroke="#000" stroke-width="1.5"/>
<polygon points="445.21,940.32 453.21,953.52 445.21,966.72 437.21,953.52" fill="#ff0000" stroke="#000" stroke-width="1.5"/>
<polygon points="469.97,921.98 477.97,935.18 469.97,948.38 461.97,935.18" fill="#ff0000" stroke="#000" stroke-width="1.5"/>
<polygon points="503.39,907.30 511.39,920.50 503.39,933.70 495.39,920.50" fill="#ff0000" stroke="#000" stroke-width="1.5"/>
<polygon points="526.11,907.30 534.11,920.50 526.11,933.70 518.11,920.50" fill="#ff0000" stroke="#000" stroke-width="1.5"/>
<polygon points="538.94,907.30 546.94,920.50 538.94,933.70 530.94,920.50" fill="#ff0000" stroke="#000" stroke-width="1.5"/>
<polygon points="560.49,907.30 568.49,920.50 560.49,933.70 552.49,920.50" fill="#ff0000" stroke="#000" stroke-width="1.5"/>
<polygon points="584.86,907.30 592.86,920.50 584.86,933.70 576.86,920.50" fill="#ff0000" stroke="#000" stroke-width="1.5"/>
<polygon points="621.24,907.30 629.24,920.50 621.24,933.70 613.24,920.50" fill="#ff0000" stroke="#000" stroke-width="1.5"/>
<polygon points="640.93,907.30 648.93,920.50 640.93,933.70 632.93,920.50" fill="#ff0000" stroke="#000" stroke-width="1.5"/>
<polygon points="655.39,907.30 663.39,920.50 655.39,933.70 647.39,920.50" fill="#ff0000" stroke="#000" stroke-width="1.5"/>
<line x1="354.6" y1="915.50" x2="354.6" y2="1292.40" stroke="#000" stroke-width="6.2"/>
</g>
<g stroke="#000" stroke-width="1.3"><line x1="93.20" y1="1287.40" x2="93.20" y2="1275.40" stroke-width="1.6"/><line x1="93.20" y1="920.50" x2="93.20" y2="932.50" stroke-width="1.6"/><line x1="128.04" y1="1287.40" x2="128.04" y2="1281.40"/><line x1="128.04" y1="920.50" x2="128.04" y2="926.50"/><line x1="148.42" y1="1287.40" x2="148.42" y2="1281.40"/><line x1="148.42" y1="920.50" x2="148.42" y2="926.50"/><line x1="162.88" y1="1287.40" x2="162.88" y2="1281.40"/><line x1="162.88" y1="920.50" x2="162.88" y2="926.50"/><line x1="174.10" y1="1287.40" x2="174.10" y2="1281.40"/><line x1="174.10" y1="920.50" x2="174.10" y2="926.50"/><line x1="183.26" y1="1287.40" x2="183.26" y2="1281.40"/><line x1="183.26" y1="920.50" x2="183.26" y2="926.50"/><line x1="191.01" y1="1287.40" x2="191.01" y2="1281.40"/><line x1="191.01" y1="920.50" x2="191.01" y2="926.50"/><line x1="197.72" y1="1287.40" x2="197.72" y2="1281.40"/><line x1="197.72" y1="920.50" x2="197.72" y2="926.50"/><line x1="203.64" y1="1287.40" x2="203.64" y2="1281.40"/><line x1="203.64" y1="920.50" x2="203.64" y2="926.50"/><line x1="208.94" y1="1287.40" x2="208.94" y2="1275.40" stroke-width="1.6"/><line x1="208.94" y1="920.50" x2="208.94" y2="932.50" stroke-width="1.6"/><line x1="243.78" y1="1287.40" x2="243.78" y2="1281.40"/><line x1="243.78" y1="920.50" x2="243.78" y2="926.50"/><line x1="264.16" y1="1287.40" x2="264.16" y2="1281.40"/><line x1="264.16" y1="920.50" x2="264.16" y2="926.50"/><line x1="278.62" y1="1287.40" x2="278.62" y2="1281.40"/><line x1="278.62" y1="920.50" x2="278.62" y2="926.50"/><line x1="289.84" y1="1287.40" x2="289.84" y2="1281.40"/><line x1="289.84" y1="920.50" x2="289.84" y2="926.50"/><line x1="299.00" y1="1287.40" x2="299.00" y2="1281.40"/><line x1="299.00" y1="920.50" x2="299.00" y2="926.50"/><line x1="306.75" y1="1287.40" x2="306.75" y2="1281.40"/><line x1="306.75" y1="920.50" x2="306.75" y2="926.50"/><line x1="313.46" y1="1287.40" x2="313.46" y2="1281.40"/><line x1="313.46" y1="920.50" x2="313.46" y2="926.50"/><line x1="319.38" y1="1287.40" x2="319.38" y2="1281.40"/><line x1="319.38" y1="920.50" x2="319.38" y2="926.50"/><line x1="324.68" y1="1287.40" x2="324.68" y2="1275.40" stroke-width="1.6"/><line x1="324.68" y1="920.50" x2="324.68" y2="932.50" stroke-width="1.6"/><line x1="359.52" y1="1287.40" x2="359.52" y2="1281.40"/><line x1="359.52" y1="920.50" x2="359.52" y2="926.50"/><line x1="379.90" y1="1287.40" x2="379.90" y2="1281.40"/><line x1="379.90" y1="920.50" x2="379.90" y2="926.50"/><line x1="394.36" y1="1287.40" x2="394.36" y2="1281.40"/><line x1="394.36" y1="920.50" x2="394.36" y2="926.50"/><line x1="405.58" y1="1287.40" x2="405.58" y2="1281.40"/><line x1="405.58" y1="920.50" x2="405.58" y2="926.50"/><line x1="414.74" y1="1287.40" x2="414.74" y2="1281.40"/><line x1="414.74" y1="920.50" x2="414.74" y2="926.50"/><line x1="422.49" y1="1287.40" x2="422.49" y2="1281.40"/><line x1="422.49" y1="920.50" x2="422.49" y2="926.50"/><line x1="429.20" y1="1287.40" x2="429.20" y2="1281.40"/><line x1="429.20" y1="920.50" x2="429.20" y2="926.50"/><line x1="435.12" y1="1287.40" x2="435.12" y2="1281.40"/><line x1="435.12" y1="920.50" x2="435.12" y2="926.50"/><line x1="440.42" y1="1287.40" x2="440.42" y2="1275.40" stroke-width="1.6"/><line x1="440.42" y1="920.50" x2="440.42" y2="932.50" stroke-width="1.6"/><line x1="475.26" y1="1287.40" x2="475.26" y2="1281.40"/><line x1="475.26" y1="920.50" x2="475.26" y2="926.50"/><line x1="495.64" y1="1287.40" x2="495.64" y2="1281.40"/><line x1="495.64" y1="920.50" x2="495.64" y2="926.50"/><line x1="510.10" y1="1287.40" x2="510.10" y2="1281.40"/><line x1="510.10" y1="920.50" x2="510.10" y2="926.50"/><line x1="521.32" y1="1287.40" x2="521.32" y2="1281.40"/><line x1="521.32" y1="920.50" x2="521.32" y2="926.50"/><line x1="530.48" y1="1287.40" x2="530.48" y2="1281.40"/><line x1="530.48" y1="920.50" x2="530.48" y2="926.50"/><line x1="538.23" y1="1287.40" x2="538.23" y2="1281.40"/><line x1="538.23" y1="920.50" x2="538.23" y2="926.50"/><line x1="544.94" y1="1287.40" x2="544.94" y2="1281.40"/><line x1="544.94" y1="920.50" x2="544.94" y2="926.50"/><line x1="550.86" y1="1287.40" x2="550.86" y2="1281.40"/><line x1="550.86" y1="920.50" x2="550.86" y2="926.50"/><line x1="556.16" y1="1287.40" x2="556.16" y2="1275.40" stroke-width="1.6"/><line x1="556.16" y1="920.50" x2="556.16" y2="932.50" stroke-width="1.6"/><line x1="591.00" y1="1287.40" x2="591.00" y2="1281.40"/><line x1="591.00" y1="920.50" x2="591.00" y2="926.50"/><line x1="611.38" y1="1287.40" x2="611.38" y2="1281.40"/><line x1="611.38" y1="920.50" x2="611.38" y2="926.50"/><line x1="625.84" y1="1287.40" x2="625.84" y2="1281.40"/><line x1="625.84" y1="920.50" x2="625.84" y2="926.50"/><line x1="637.06" y1="1287.40" x2="637.06" y2="1281.40"/><line x1="637.06" y1="920.50" x2="637.06" y2="926.50"/><line x1="646.22" y1="1287.40" x2="646.22" y2="1281.40"/><line x1="646.22" y1="920.50" x2="646.22" y2="926.50"/><line x1="653.97" y1="1287.40" x2="653.97" y2="1281.40"/><line x1="653.97" y1="920.50" x2="653.97" y2="926.50"/><line x1="660.68" y1="1287.40" x2="660.68" y2="1281.40"/><line x1="660.68" y1="920.50" x2="660.68" y2="926.50"/><line x1="666.60" y1="1287.40" x2="666.60" y2="1281.40"/><line x1="666.60" y1="920.50" x2="666.60" y2="926.50"/><line x1="671.90" y1="1287.40" x2="671.90" y2="1275.40" stroke-width="1.6"/><line x1="671.90" y1="920.50" x2="671.90" y2="932.50" stroke-width="1.6"/><line x1="93.20" y1="1287.40" x2="105.20" y2="1287.40" stroke-width="1.6"/><line x1="671.90" y1="1287.40" x2="659.90" y2="1287.40" stroke-width="1.6"/><line x1="93.20" y1="1214.02" x2="105.20" y2="1214.02" stroke-width="1.6"/><line x1="671.90" y1="1214.02" x2="659.90" y2="1214.02" stroke-width="1.6"/><line x1="93.20" y1="1140.64" x2="105.20" y2="1140.64" stroke-width="1.6"/><line x1="671.90" y1="1140.64" x2="659.90" y2="1140.64" stroke-width="1.6"/><line x1="93.20" y1="1067.26" x2="105.20" y2="1067.26" stroke-width="1.6"/><line x1="671.90" y1="1067.26" x2="659.90" y2="1067.26" stroke-width="1.6"/><line x1="93.20" y1="993.88" x2="105.20" y2="993.88" stroke-width="1.6"/><line x1="671.90" y1="993.88" x2="659.90" y2="993.88" stroke-width="1.6"/><line x1="93.20" y1="920.50" x2="105.20" y2="920.50" stroke-width="1.6"/><line x1="671.90" y1="920.50" x2="659.90" y2="920.50" stroke-width="1.6"/></g>
<rect x="93.20" y="920.50" width="578.70" height="366.90" fill="none" stroke="#000" stroke-width="2.7"/>
<text x="81.50" y="1294.70" text-anchor="end" font-size="20.50" >0.0</text>
<text x="81.50" y="1221.32" text-anchor="end" font-size="20.50" >0.2</text>
<text x="81.50" y="1147.94" text-anchor="end" font-size="20.50" >0.4</text>
<text x="81.50" y="1074.56" text-anchor="end" font-size="20.50" >0.6</text>
<text x="81.50" y="1001.18" text-anchor="end" font-size="20.50" >0.8</text>
<text x="81.50" y="927.80" text-anchor="end" font-size="20.50" >1.0</text>
<rect x="371.70" y="1089.50" width="287.60" height="184.00" rx="4.2" ry="4.2" fill="#ffffff" fill-opacity="0.55" stroke="#808080" stroke-width="2.8"/>
<line x1="389.40" y1="1108.60" x2="425.40" y2="1108.60" stroke="#0000ff" stroke-width="3" stroke-dasharray="18.5 19.5"/>
<circle cx="389.40" cy="1108.60" r="9.75" fill="#0000ff" stroke="#000" stroke-width="1.5"/>
<circle cx="425.40" cy="1108.60" r="9.75" fill="#0000ff" stroke="#000" stroke-width="1.5"/>
<text x="445.20" y="1118.60" text-anchor="start" font-size="20.50" >MSM</text>
<line x1="389.40" y1="1144.50" x2="425.40" y2="1144.50" stroke="#008000" stroke-width="3" stroke-dasharray="18.5 19.5"/>
<rect x="379.80" y="1134.90" width="19.2" height="19.2" fill="#008000" stroke="#000" stroke-width="1.5"/>
<rect x="415.80" y="1134.90" width="19.2" height="19.2" fill="#008000" stroke="#000" stroke-width="1.5"/>
<text x="445.20" y="1153.70" text-anchor="start" font-size="20.50" >MEMM</text>
<line x1="389.40" y1="1179.80" x2="425.40" y2="1179.80" stroke="#ff0000" stroke-width="3" stroke-dasharray="18.5 19.5"/>
<polygon points="389.40,1166.60 397.40,1179.80 389.40,1193.00 381.40,1179.80" fill="#ff0000" stroke="#000" stroke-width="1.5"/>
<polygon points="425.40,1166.60 433.40,1179.80 425.40,1193.00 417.40,1179.80" fill="#ff0000" stroke="#000" stroke-width="1.5"/>
<text x="445.20" y="1187.30" text-anchor="start" font-size="20.50" >Direct sampling</text>
<line x1="386.6" y1="1215.50" x2="428.6" y2="1215.50" stroke="#000" stroke-width="6.2"/>
<text x="445.20" y="1222.50" text-anchor="start" font-size="20.50" >Dissoc. MFPT</text>
<rect x="382.4" y="1242.60" width="51.2" height="17.4" fill="#008000" fill-opacity="0.25" stroke="#4a6e4a" stroke-opacity="0.45" stroke-width="2"/>
<text x="445.20" y="1257.20" text-anchor="start" font-size="20.50" >Suc. prob ≥0.9</text>
<text x="0" y="0" transform="translate(34.5 723.1) rotate(-90)" text-anchor="middle" font-size="20.50">Δ<tspan font-style="italic">G</tspan> success probability</text>
<text x="0" y="0" transform="translate(35 1105) rotate(-90)" text-anchor="middle" font-size="20.50">MFPT success probability</text>
<text x="78.70" y="1315.0" font-size="19.8">10</text><text x="98.80" y="1308.7" font-size="13">4</text>
<text x="194.44" y="1315.0" font-size="19.8">10</text><text x="214.54" y="1308.7" font-size="13">5</text>
<text x="310.18" y="1315.0" font-size="19.8">10</text><text x="330.28" y="1308.7" font-size="13">6</text>
<text x="425.92" y="1315.0" font-size="19.8">10</text><text x="446.02" y="1308.7" font-size="13">7</text>
<text x="541.66" y="1315.0" font-size="19.8">10</text><text x="561.76" y="1308.7" font-size="13">8</text>
<text x="657.40" y="1315.0" font-size="19.8">10</text><text x="677.50" y="1308.7" font-size="13">9</text>
<text x="383.50" y="1343.30" text-anchor="middle" font-size="20.70" >Accumulated simulation time / MCMC steps</text>
</svg>
</body></html>
